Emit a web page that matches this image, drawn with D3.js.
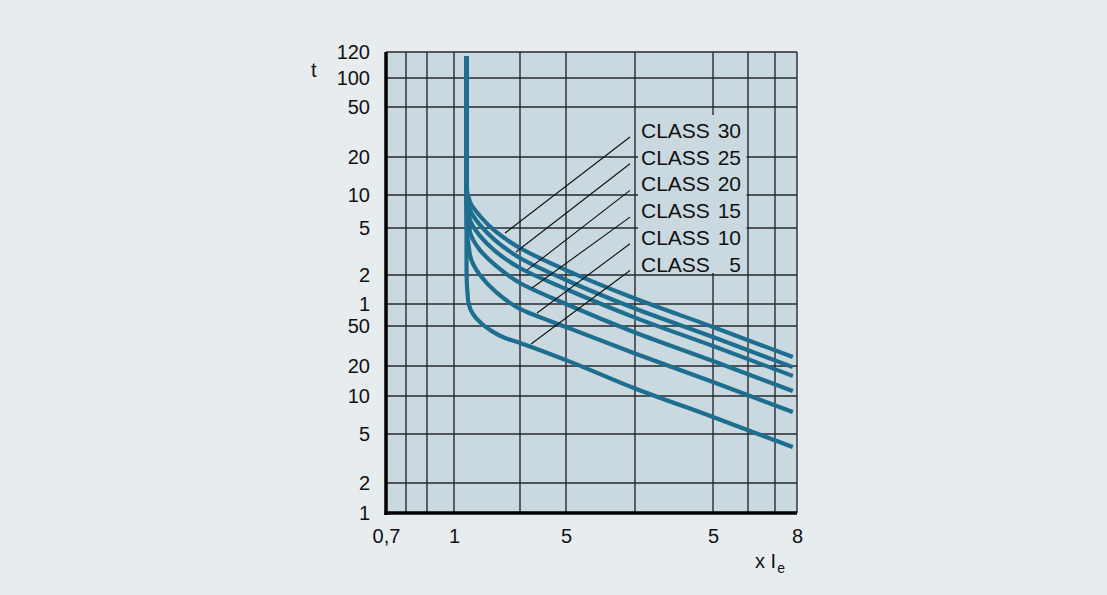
<!DOCTYPE html>
<html>
<head>
<meta charset="utf-8">
<script src="https://cdn.jsdelivr.net/npm/d3@7"></script>
<style>
  html, body { margin: 0; padding: 0; background: #e7ecef; }
  svg { display: block; font-family: "Liberation Sans", Arial, sans-serif; }
</style>
</head>
<body>
<svg id="chart" width="1107" height="595"></svg>
<script>
// ---- data (x in multiples of Ie, t in seconds) ----
const xGridValues = [0.7, 0.8, 0.9, 1, 1.5, 2, 3, 5, 6, 7, 8];
const xTickValues = [0.7, 1, 2, 5, 8];
const xTickLabels = ["0,7", "1", "5", "5", "8"];
const yTickValues = [7200, 6000, 3000, 1200, 600, 300, 120, 60, 50, 20, 10, 5, 2, 1];
const yTickLabels = ["120", "100", "50", "20", "10", "5", "2", "1", "50", "20", "10", "5", "2", "1"];

const classNames = ["CLASS 30", "CLASS 25", "CLASS 20", "CLASS 15", "CLASS 10", "CLASS 5"];
const class30 = [[1.08,7000],[1.08,720],[1.103,518],[1.173,386],[1.286,283],[1.5,203],[2,132],[3,68.4],[5,48.9],[7.8,24.6]];
const class25 = [[1.08,7000],[1.08,634],[1.103,438],[1.173,320],[1.286,237],[1.5,167],[2,106.5],[3,57.8],[5,38.9],[7.8,19.5]];
const class20 = [[1.08,7000],[1.08,563],[1.103,355],[1.173,257],[1.286,192],[1.5,137.5],[2,85.9],[3,53.6],[5,31.6],[7.8,15.9]];
const class15 = [[1.08,7000],[1.08,486],[1.103,277],[1.173,195],[1.286,146],[1.5,99],[2,60],[3,43.1],[5,22.4],[7.8,11.2]];
const class10 = [[1.08,7000],[1.08,355],[1.103,177],[1.173,120],[1.286,81.9],[1.5,57.6],[2,48.9],[3,26.6],[5,13.8],[7.8,7.47]];
const class5  = [[1.08,7000],[1.08,132],[1.09,66],[1.145,53.4],[1.248,45.6],[1.368,38],[1.5,33.9],[2,22.9],[3,11.9],[5,6.82],[7.8,3.92]];
const classCurves = [class30, class25, class20, class15, class10, class5];
// pointer anchors near the curves (x, t)
const classAnchors = [[1.368,272],[1.463,188],[1.567,132],[1.617,88],[1.669,55.7],[1.607,33.1]];

// ---- scales (non-uniform, piecewise in log space) ----
const xPiece = d3.scaleLinear()
  .domain(xGridValues.map(Math.log10))
  .range([386, 406, 427, 454, 520, 566, 635, 713, 748, 775, 797]);
const yPiece = d3.scaleLinear()
  .domain(yTickValues.map(Math.log10))
  .range([52, 78, 107, 157, 195, 228, 275, 304, 326, 366, 396, 434, 483, 513]);
const xS = v => xPiece(Math.log10(v));
const yS = v => yPiece(Math.log10(v));

const pLeft = 386, pRight = 797, pTop = 52, pBottom = 513;
const plotFill = "#cad8e0";
const curveColor = "#1e6e8f";
const inkColor = "#111";

const svg = d3.select("#chart");
svg.append("rect").attr("width", 1107).attr("height", 595).attr("fill", "#e7ecef");

// plot background
svg.append("rect")
  .attr("x", pLeft).attr("y", pTop)
  .attr("width", pRight - pLeft).attr("height", pBottom - pTop)
  .attr("fill", plotFill);

// grid
const grid = svg.append("g").attr("stroke", "#262a2e").attr("stroke-width", 1.4);
grid.selectAll("line.h").data(yTickValues).join("line")
  .attr("class", "h")
  .attr("x1", pLeft).attr("x2", pRight)
  .attr("y1", d => yS(d)).attr("y2", d => yS(d));
grid.selectAll("line.v").data(xGridValues).join("line")
  .attr("class", "v")
  .attr("y1", pTop).attr("y2", pBottom)
  .attr("x1", d => xS(d)).attr("x2", d => xS(d));

// label box covering the grid
svg.append("rect")
  .attr("x", 638).attr("y", 115)
  .attr("width", 108.5).attr("height", 158)
  .attr("fill", plotFill);

// curves (monotone in screen y keeps the vertical part straight)
const line = d3.line()
  .x(d => xS(d[0])).y(d => yS(d[1]))
  .curve(d3.curveMonotoneY);
svg.append("g").selectAll("path").data(classCurves).join("path")
  .attr("d", line)
  .attr("fill", "none")
  .attr("stroke", curveColor)
  .attr("stroke-width", 4.2)
  .attr("stroke-linecap", "butt")
  .attr("stroke-linejoin", "round");

// thick axis lines
svg.append("line").attr("x1", pLeft).attr("x2", pLeft).attr("y1", pTop).attr("y2", pBottom + 2)
  .attr("stroke", "#000").attr("stroke-width", 3.5);
svg.append("line").attr("x1", pLeft - 1.5).attr("x2", pRight).attr("y1", pBottom).attr("y2", pBottom)
  .attr("stroke", "#000").attr("stroke-width", 3.5);

// class labels and pointer lines
const labelX = 641, labelY0 = 138, labelStep = 26.7;
svg.append("g").selectAll("line").data(classAnchors).join("line")
  .attr("x1", d => xS(d[0])).attr("y1", d => yS(d[1]))
  .attr("x2", 630).attr("y2", (d, i) => labelY0 + i * labelStep - 1)
  .attr("stroke", inkColor).attr("stroke-width", 1.1);

const labels = svg.append("g").attr("font-size", 21).attr("fill", inkColor);
classNames.forEach((name, i) => {
  const parts = name.split(" ");
  const yy = labelY0 + i * labelStep;
  labels.append("text").attr("x", labelX).attr("y", yy).text(parts[0]);
  labels.append("text").attr("x", 741).attr("y", yy).attr("text-anchor", "end").text(parts[1]);
});

// axes (labels only)
const yAxis = d3.axisLeft(yPiece)
  .tickValues(yTickValues.map(Math.log10))
  .tickFormat((d, i) => yTickLabels[i])
  .tickSize(0).tickPadding(16);
const gy = svg.append("g").attr("transform", `translate(${pLeft},0)`).call(yAxis);
gy.select(".domain").remove();
gy.selectAll("text").attr("font-size", 20).attr("fill", inkColor)
  .attr("font-family", "'Liberation Sans', Arial, sans-serif");

const xAxis = d3.axisBottom(xPiece)
  .tickValues(xTickValues.map(Math.log10))
  .tickFormat((d, i) => xTickLabels[i])
  .tickSize(0).tickPadding(16);
const gx = svg.append("g").attr("transform", `translate(0,${pBottom})`).call(xAxis);
gx.select(".domain").remove();
gx.selectAll("text").attr("font-size", 20).attr("fill", inkColor)
  .attr("font-family", "'Liberation Sans', Arial, sans-serif");

// axis titles
svg.append("text").attr("x", 311).attr("y", 77).attr("font-size", 20).attr("fill", inkColor).text("t");
const xt = svg.append("text").attr("x", 755).attr("y", 568).attr("font-size", 20).attr("fill", inkColor);
xt.append("tspan").text("x I");
xt.append("tspan").attr("font-size", 14).attr("dy", 5).attr("dx", 1).text("e");
</script>
</body>
</html>
